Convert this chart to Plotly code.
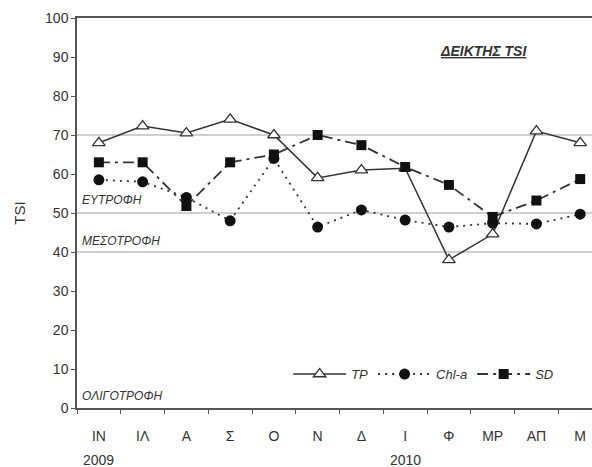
import plotly.graph_objects as go

months = ["ΙΝ", "ΙΛ", "Α", "Σ", "Ο", "Ν", "Δ", "Ι", "Φ", "ΜΡ", "ΑΠ", "Μ"]
tp = [68, 72.3, 70.5, 74, 70, 59, 61, 61.5, 38, 44.6, 71, 68]
chla = [58.5, 58, 54, 48, 64, 46.4, 50.8, 48.2, 46.4, 47.4, 47.2, 49.7]
sd = [63, 63, 51.8, 63, 65, 70, 67.4, 61.8, 57.2, 49, 53.2, 58.7]
thresholds = [40, 50, 70]
zones = [("ΕΥΤΡΟΦΗ", 53.4), ("ΜΕΣΟΤΡΟΦΗ", 42.8), ("ΟΛΙΓΟΤΡΟΦΗ", 3.2)]
years = [("2009", 0), ("2010", 7)]

dark = "#333333"
fig = go.Figure()
fig.add_trace(go.Scatter(
    x=months, y=tp, name="<i>TP</i>", mode="lines+markers",
    line=dict(color=dark, width=1.5, dash="solid"),
    marker=dict(symbol="triangle-up", size=11, color="white",
                line=dict(color=dark, width=1.3))))
fig.add_trace(go.Scatter(
    x=months, y=chla, name="<i>Chl-a</i>", mode="lines+markers",
    line=dict(color=dark, width=1.8, dash="2px,5px"),
    marker=dict(symbol="circle", size=11, color="#111111")))
fig.add_trace(go.Scatter(
    x=months, y=sd, name="<i>SD</i>", mode="lines+markers",
    line=dict(color=dark, width=1.8, dash="11px,5px,3px,5px"),
    marker=dict(symbol="square", size=10, color="#111111")))

for t in thresholds:
    fig.add_shape(type="line", xref="paper", x0=0, x1=1, yref="y", y0=t, y1=t,
                  line=dict(color="#a0a0a0", width=1.2), layer="below")

for txt, yv in zones:
    fig.add_annotation(text="<i>" + txt + "</i>", xref="paper", x=0.006, y=yv,
                       xanchor="left", yanchor="middle", showarrow=False,
                       font=dict(size=12, color=dark, family="Arial"))

for txt, xv in years:
    fig.add_annotation(text=txt, x=xv, xref="x", yref="paper", y=-0.133,
                       xanchor="center", yanchor="middle", showarrow=False,
                       font=dict(size=14, color=dark, family="Arial"))

fig.add_annotation(text="<b><i><u>ΔΕΙΚΤΗΣ TSI</u></i></b>", xref="paper", x=0.79,
                   y=91.5, xanchor="center", yanchor="middle", showarrow=False,
                   font=dict(size=14, color=dark, family="Arial"))

fig.update_layout(
    width=592, height=467,
    margin=dict(l=77, r=0, t=18, b=59),
    paper_bgcolor="white", plot_bgcolor="white",
    font=dict(family="Arial", size=14, color=dark),
    showlegend=True,
    legend=dict(orientation="h", x=0.41, y=0.087, xanchor="left", yanchor="middle",
                font=dict(size=13, color=dark), bgcolor="rgba(0,0,0,0)",
                itemwidth=53, tracegroupgap=0),
    xaxis=dict(type="category", range=[-0.5, 11.27], showline=True, mirror=True,
               linecolor="#555555", linewidth=1.5, ticks="outside", tickson="boundaries",
               ticklen=4, tickcolor="#555555", showgrid=False, zeroline=False,
               ticklabelstandoff=14, tickfont=dict(size=14)),
    yaxis=dict(range=[0, 100], dtick=10, showline=True, linecolor="#555555", linewidth=1.5,
               ticks="outside", ticklen=4, tickcolor="#555555", showgrid=False,
               zeroline=False, tickfont=dict(size=14),
               title=dict(text="TSI", font=dict(size=15), standoff=16)),
)

fig.write_html("out.html", config={"displayModeBar": False},
               post_script="document.body.style.margin='0px';document.body.style.overflow='hidden';")
